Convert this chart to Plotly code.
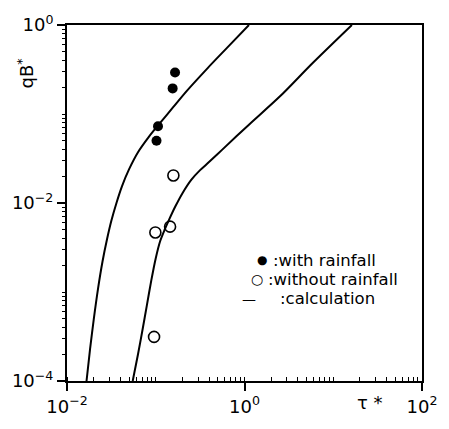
import plotly.graph_objects as go

# Data
with_rain_tau = [0.165, 0.155, 0.106, 0.102]
with_rain_q = [0.292, 0.194, 0.0728, 0.050]

without_rain_tau = [0.158, 0.145, 0.099, 0.0957]
without_rain_q = [0.0204, 0.00542, 0.00467, 0.000313]

calc1_tau = [0.0166, 0.0182, 0.0200, 0.0224, 0.0251, 0.0282, 0.0316, 0.0363, 0.0417,
             0.0501, 0.0631, 0.0832, 0.112, 0.158, 0.224, 0.380, 0.631, 1.122]
calc1_q = [1.0e-4, 2.29e-4, 4.90e-4, 1.10e-3, 2.19e-3, 3.89e-3, 6.31e-3, 0.0102, 0.0155,
           0.0240, 0.0372, 0.0550, 0.0794, 0.120, 0.182, 0.324, 0.550, 1.0]

calc2_tau = [0.0550, 0.0631, 0.0708, 0.0794, 0.0891, 0.100, 0.112, 0.126, 0.141, 0.166,
             0.200, 0.251, 0.316, 0.398, 0.562, 1.122, 2.512, 5.754, 16.22]
calc2_q = [1.0e-4, 2.00e-4, 3.72e-4, 7.08e-4, 1.35e-3, 2.40e-3, 3.72e-3, 5.01e-3, 6.46e-3,
           9.12e-3, 0.0129, 0.0182, 0.0234, 0.0288, 0.0398, 0.0759, 0.158, 0.367, 1.0]

x_tick_vals = [0.01, 1, 100]
x_tick_text = ["10<sup>−2</sup>", "10<sup>0</sup>", "10<sup>2</sup>"]
y_tick_vals = [1e-4, 1e-2, 1]
y_tick_text = ["10<sup>−4</sup>", "10<sup>−2</sup>", "10<sup>0</sup>"]

FONT = "DejaVu Sans"

fig = go.Figure()
for tx, ty in [(calc1_tau, calc1_q), (calc2_tau, calc2_q)]:
    fig.add_trace(go.Scatter(x=tx, y=ty, mode="lines",
                             line=dict(color="black", width=2, shape="spline", smoothing=0.8),
                             showlegend=False, hoverinfo="skip"))
fig.add_trace(go.Scatter(x=with_rain_tau, y=with_rain_q, mode="markers",
                         marker=dict(symbol="circle", size=10, color="black"),
                         showlegend=False))
fig.add_trace(go.Scatter(x=without_rain_tau, y=without_rain_q, mode="markers",
                         marker=dict(symbol="circle-open", size=11, color="black",
                                     line=dict(width=1.6)),
                         showlegend=False))

minor_vals = [m * 10 ** k for k in range(-4, 2) for m in range(1, 10)]

fig.update_xaxes(type="log", range=[-2, 2], showgrid=False, zeroline=False,
                 showline=True, linecolor="black", linewidth=2, mirror=True,
                 tickmode="array", tickvals=x_tick_vals, ticktext=x_tick_text,
                 ticks="outside", ticklen=8, tickwidth=2, tickcolor="black",
                 minor=dict(tickmode="array", tickvals=minor_vals, ticks="inside",
                            ticklen=4, tickcolor="black", tickwidth=1, showgrid=False),
                 tickfont=dict(family=FONT, size=18, color="black"))
fig.update_yaxes(type="log", range=[-4, 0], showgrid=False, zeroline=False,
                 showline=True, linecolor="black", linewidth=2, mirror=True,
                 tickmode="array", tickvals=y_tick_vals, ticktext=y_tick_text,
                 ticks="outside", ticklen=8, tickwidth=2, tickcolor="black",
                 minor=dict(tickmode="array", tickvals=minor_vals, ticks="outside",
                            ticklen=3, tickcolor="black", tickwidth=1, showgrid=False),
                 tickfont=dict(family=FONT, size=18, color="black"))

def px(xp):
    return (xp - 66) / 364

def py(yp):
    return (388 - yp) / 368

ann = []
ann.append(dict(text="qB<sup>*</sup>", xref="paper", yref="paper", x=px(24), y=py(70),
                xanchor="center", yanchor="middle",
                textangle=-90, showarrow=False, font=dict(family=FONT, size=18, color="black")))
ann.append(dict(text="τ *", xref="paper", yref="paper", x=px(377), y=py(410),
                xanchor="center", yanchor="middle",
                showarrow=False, font=dict(family=FONT, size=18, color="black")))

legend_rows = [("●", ":with rainfall", 263, 266, 275, 12),
               ("○", ":without rainfall", 283, 261, 270, 14),
               ("—", ":calculation", 303, 253, 282, 14)]
for sym, label, yy, sx, tx0, ssize in legend_rows:
    ann.append(dict(text=sym, xref="paper", yref="paper", x=px(sx), y=py(yy),
                    xanchor="center", yanchor="middle", showarrow=False,
                    font=dict(family=FONT, size=ssize, color="black")))
    ann.append(dict(text=label, xref="paper", yref="paper", x=px(tx0), y=py(yy),
                    xanchor="left", yanchor="middle", showarrow=False,
                    font=dict(family=FONT, size=16.5, color="black")))

fig.update_layout(width=449, height=429, margin=dict(l=66, r=19, t=20, b=41),
                  paper_bgcolor="white", plot_bgcolor="white", annotations=ann,
                  showlegend=False)

fig.write_html("out.html", config={"displayModeBar": False},
               post_script="document.body.style.margin='0';document.body.style.padding='0';")
